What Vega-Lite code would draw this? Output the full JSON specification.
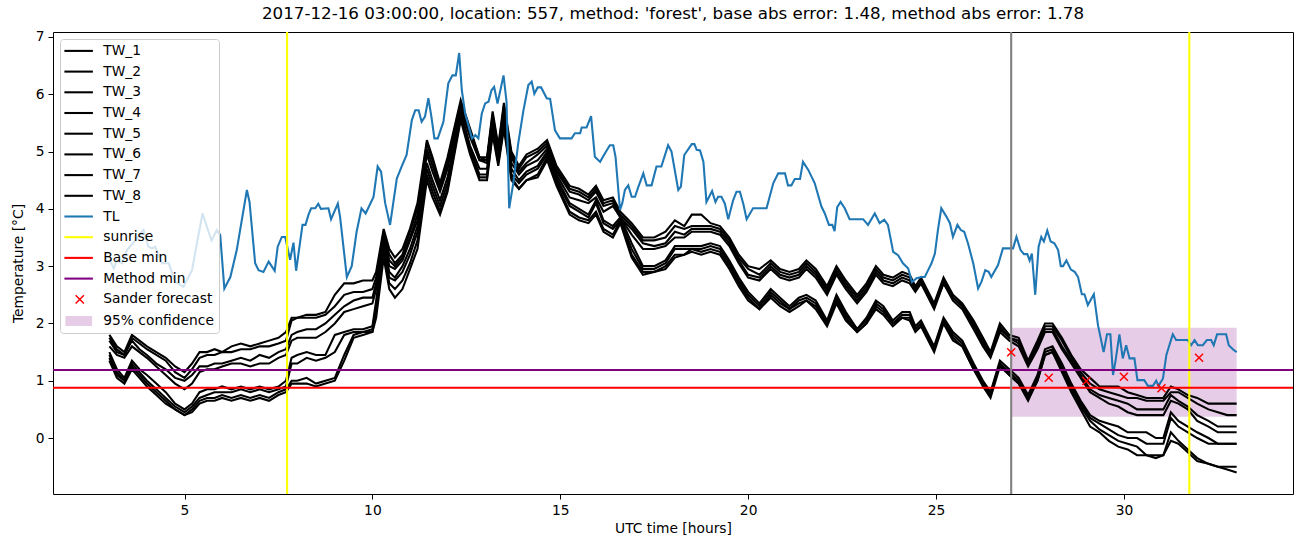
{
"$schema": "https://vega.github.io/schema/vega-lite/v6.json",
"width": 1240, "height": 462,
"autosize": {"type": "none"},
"padding": {"left": 53, "top": 32, "right": 9, "bottom": 53},
"background": "white",
"title": {"text": "2017-12-16 03:00:00, location: 557, method: 'forest', base abs error: 1.48, method abs error: 1.78", "font": "DejaVu Sans", "fontSize": 16.7, "fontWeight": "normal", "color": "black", "offset": 7, "anchor": "middle"},
"datasets": {
"tw": [
{"h":3.0,"TW_1":1.8,"TW_2":1.75,"TW_3":1.7,"TW_4":1.6,"TW_5":1.5,"TW_6":1.45,"TW_7":1.4,"TW_8":1.35},
{"h":3.2,"TW_1":1.6,"TW_2":1.55,"TW_3":1.5,"TW_4":1.45,"TW_5":1.2,"TW_6":1.15,"TW_7":1.1,"TW_8":1.05},
{"h":3.4,"TW_1":1.5,"TW_2":1.45,"TW_3":1.45,"TW_4":1.4,"TW_5":1.05,"TW_6":1.0,"TW_7":1.0,"TW_8":0.95},
{"h":3.6,"TW_1":1.8,"TW_2":1.75,"TW_3":1.7,"TW_4":1.6,"TW_5":1.35,"TW_6":1.3,"TW_7":1.25,"TW_8":1.2},
{"h":3.8,"TW_1":1.7,"TW_2":1.65,"TW_3":1.55,"TW_4":1.5,"TW_5":1.2,"TW_6":1.15,"TW_7":1.1,"TW_8":1.05},
{"h":4.0,"TW_1":1.6,"TW_2":1.55,"TW_3":1.45,"TW_4":1.4,"TW_5":1.1,"TW_6":1.0,"TW_7":0.95,"TW_8":0.9},
{"h":4.25,"TW_1":1.5,"TW_2":1.45,"TW_3":1.3,"TW_4":1.25,"TW_5":0.95,"TW_6":0.85,"TW_7":0.8,"TW_8":0.75},
{"h":4.5,"TW_1":1.4,"TW_2":1.35,"TW_3":1.2,"TW_4":1.1,"TW_5":0.8,"TW_6":0.7,"TW_7":0.65,"TW_8":0.6},
{"h":4.75,"TW_1":1.25,"TW_2":1.15,"TW_3":1.05,"TW_4":0.95,"TW_5":0.6,"TW_6":0.55,"TW_7":0.5,"TW_8":0.5},
{"h":5.0,"TW_1":1.15,"TW_2":1.05,"TW_3":1.0,"TW_4":0.85,"TW_5":0.5,"TW_6":0.45,"TW_7":0.4,"TW_8":0.4},
{"h":5.2,"TW_1":1.3,"TW_2":1.2,"TW_3":1.1,"TW_4":0.95,"TW_5":0.6,"TW_6":0.55,"TW_7":0.5,"TW_8":0.45},
{"h":5.4,"TW_1":1.5,"TW_2":1.4,"TW_3":1.25,"TW_4":1.15,"TW_5":0.8,"TW_6":0.7,"TW_7":0.65,"TW_8":0.6},
{"h":5.6,"TW_1":1.5,"TW_2":1.45,"TW_3":1.25,"TW_4":1.2,"TW_5":0.85,"TW_6":0.75,"TW_7":0.7,"TW_8":0.65},
{"h":5.8,"TW_1":1.55,"TW_2":1.45,"TW_3":1.3,"TW_4":1.2,"TW_5":0.85,"TW_6":0.8,"TW_7":0.7,"TW_8":0.65},
{"h":6.0,"TW_1":1.5,"TW_2":1.5,"TW_3":1.3,"TW_4":1.25,"TW_5":0.9,"TW_6":0.8,"TW_7":0.75,"TW_8":0.7},
{"h":6.25,"TW_1":1.6,"TW_2":1.5,"TW_3":1.35,"TW_4":1.3,"TW_5":0.85,"TW_6":0.8,"TW_7":0.7,"TW_8":0.65},
{"h":6.5,"TW_1":1.65,"TW_2":1.55,"TW_3":1.4,"TW_4":1.3,"TW_5":0.9,"TW_6":0.85,"TW_7":0.75,"TW_8":0.7},
{"h":6.75,"TW_1":1.6,"TW_2":1.55,"TW_3":1.35,"TW_4":1.25,"TW_5":0.85,"TW_6":0.8,"TW_7":0.7,"TW_8":0.65},
{"h":7.0,"TW_1":1.65,"TW_2":1.6,"TW_3":1.45,"TW_4":1.3,"TW_5":0.9,"TW_6":0.85,"TW_7":0.75,"TW_8":0.7},
{"h":7.25,"TW_1":1.7,"TW_2":1.6,"TW_3":1.4,"TW_4":1.3,"TW_5":0.85,"TW_6":0.8,"TW_7":0.7,"TW_8":0.65},
{"h":7.5,"TW_1":1.75,"TW_2":1.65,"TW_3":1.5,"TW_4":1.4,"TW_5":0.9,"TW_6":0.85,"TW_7":0.8,"TW_8":0.75},
{"h":7.7,"TW_1":1.85,"TW_2":1.7,"TW_3":1.55,"TW_4":1.45,"TW_5":1.0,"TW_6":0.9,"TW_7":0.85,"TW_8":0.8},
{"h":7.85,"TW_1":2.1,"TW_2":2.05,"TW_3":1.8,"TW_4":1.7,"TW_5":1.4,"TW_6":1.3,"TW_7":1.0,"TW_8":0.95},
{"h":8.0,"TW_1":2.1,"TW_2":2.1,"TW_3":1.85,"TW_4":1.75,"TW_5":1.45,"TW_6":1.3,"TW_7":1.0,"TW_8":0.95},
{"h":8.25,"TW_1":2.15,"TW_2":2.1,"TW_3":1.9,"TW_4":1.75,"TW_5":1.5,"TW_6":1.4,"TW_7":1.05,"TW_8":0.95},
{"h":8.5,"TW_1":2.15,"TW_2":2.1,"TW_3":1.9,"TW_4":1.75,"TW_5":1.45,"TW_6":1.35,"TW_7":0.95,"TW_8":0.9},
{"h":8.75,"TW_1":2.2,"TW_2":2.15,"TW_3":2.0,"TW_4":1.85,"TW_5":1.45,"TW_6":1.4,"TW_7":1.0,"TW_8":0.95},
{"h":9.0,"TW_1":2.5,"TW_2":2.3,"TW_3":2.15,"TW_4":2.0,"TW_5":1.8,"TW_6":1.5,"TW_7":1.05,"TW_8":1.0},
{"h":9.25,"TW_1":2.7,"TW_2":2.5,"TW_3":2.3,"TW_4":2.2,"TW_5":1.85,"TW_6":1.8,"TW_7":1.45,"TW_8":1.35},
{"h":9.5,"TW_1":2.7,"TW_2":2.55,"TW_3":2.4,"TW_4":2.25,"TW_5":1.9,"TW_6":1.85,"TW_7":1.8,"TW_8":1.75},
{"h":9.75,"TW_1":2.75,"TW_2":2.55,"TW_3":2.45,"TW_4":2.3,"TW_5":1.9,"TW_6":1.85,"TW_7":1.85,"TW_8":1.8},
{"h":10.0,"TW_1":2.75,"TW_2":2.6,"TW_3":2.45,"TW_4":2.35,"TW_5":1.95,"TW_6":1.9,"TW_7":1.85,"TW_8":1.85},
{"h":10.1,"TW_1":2.9,"TW_2":2.8,"TW_3":2.7,"TW_4":2.6,"TW_5":2.4,"TW_6":2.3,"TW_7":2.2,"TW_8":2.1},
{"h":10.3,"TW_1":3.65,"TW_2":3.6,"TW_3":3.55,"TW_4":3.5,"TW_5":3.4,"TW_6":3.35,"TW_7":3.3,"TW_8":3.15},
{"h":10.45,"TW_1":3.3,"TW_2":3.2,"TW_3":3.1,"TW_4":3.0,"TW_5":2.9,"TW_6":2.8,"TW_7":2.7,"TW_8":2.6},
{"h":10.6,"TW_1":3.15,"TW_2":3.05,"TW_3":3.0,"TW_4":2.95,"TW_5":2.8,"TW_6":2.75,"TW_7":2.6,"TW_8":2.45},
{"h":10.8,"TW_1":3.3,"TW_2":3.2,"TW_3":3.15,"TW_4":3.1,"TW_5":3.0,"TW_6":2.9,"TW_7":2.75,"TW_8":2.6},
{"h":11.0,"TW_1":3.65,"TW_2":3.6,"TW_3":3.5,"TW_4":3.45,"TW_5":3.3,"TW_6":3.2,"TW_7":3.05,"TW_8":2.95},
{"h":11.2,"TW_1":4.1,"TW_2":4.0,"TW_3":3.9,"TW_4":3.8,"TW_5":3.7,"TW_6":3.6,"TW_7":3.45,"TW_8":3.3},
{"h":11.45,"TW_1":5.2,"TW_2":5.15,"TW_3":5.05,"TW_4":4.95,"TW_5":4.8,"TW_6":4.7,"TW_7":4.6,"TW_8":4.5},
{"h":11.6,"TW_1":4.9,"TW_2":4.85,"TW_3":4.75,"TW_4":4.65,"TW_5":4.5,"TW_6":4.4,"TW_7":4.3,"TW_8":4.2},
{"h":11.8,"TW_1":4.45,"TW_2":4.4,"TW_3":4.35,"TW_4":4.3,"TW_5":4.15,"TW_6":4.05,"TW_7":3.95,"TW_8":3.9},
{"h":12.0,"TW_1":4.9,"TW_2":4.85,"TW_3":4.8,"TW_4":4.7,"TW_5":4.55,"TW_6":4.45,"TW_7":4.35,"TW_8":4.3},
{"h":12.35,"TW_1":5.9,"TW_2":5.85,"TW_3":5.8,"TW_4":5.75,"TW_5":5.7,"TW_6":5.65,"TW_7":5.6,"TW_8":5.55},
{"h":12.6,"TW_1":5.4,"TW_2":5.35,"TW_3":5.3,"TW_4":5.25,"TW_5":5.1,"TW_6":5.05,"TW_7":5.0,"TW_8":4.95},
{"h":12.85,"TW_1":4.9,"TW_2":4.9,"TW_3":4.85,"TW_4":4.85,"TW_5":4.7,"TW_6":4.6,"TW_7":4.55,"TW_8":4.5},
{"h":13.05,"TW_1":4.9,"TW_2":4.85,"TW_3":4.85,"TW_4":4.8,"TW_5":4.7,"TW_6":4.6,"TW_7":4.55,"TW_8":4.5},
{"h":13.2,"TW_1":5.7,"TW_2":5.65,"TW_3":5.6,"TW_4":5.55,"TW_5":5.5,"TW_6":5.45,"TW_7":5.35,"TW_8":5.3},
{"h":13.35,"TW_1":5.1,"TW_2":5.05,"TW_3":5.0,"TW_4":4.95,"TW_5":4.9,"TW_6":4.85,"TW_7":4.8,"TW_8":4.75},
{"h":13.5,"TW_1":5.85,"TW_2":5.8,"TW_3":5.75,"TW_4":5.7,"TW_5":5.6,"TW_6":5.5,"TW_7":5.45,"TW_8":5.4},
{"h":13.7,"TW_1":5.0,"TW_2":4.95,"TW_3":4.9,"TW_4":4.8,"TW_5":4.7,"TW_6":4.6,"TW_7":4.55,"TW_8":4.5},
{"h":13.9,"TW_1":4.75,"TW_2":4.7,"TW_3":4.65,"TW_4":4.6,"TW_5":4.5,"TW_6":4.45,"TW_7":4.35,"TW_8":4.35},
{"h":14.1,"TW_1":4.95,"TW_2":4.9,"TW_3":4.8,"TW_4":4.75,"TW_5":4.65,"TW_6":4.6,"TW_7":4.5,"TW_8":4.5},
{"h":14.4,"TW_1":5.05,"TW_2":5.0,"TW_3":4.95,"TW_4":4.85,"TW_5":4.75,"TW_6":4.7,"TW_7":4.6,"TW_8":4.55},
{"h":14.65,"TW_1":5.2,"TW_2":5.15,"TW_3":5.1,"TW_4":5.05,"TW_5":5.0,"TW_6":4.95,"TW_7":4.9,"TW_8":4.85},
{"h":14.9,"TW_1":4.75,"TW_2":4.7,"TW_3":4.65,"TW_4":4.6,"TW_5":4.55,"TW_6":4.5,"TW_7":4.45,"TW_8":4.4},
{"h":15.25,"TW_1":4.4,"TW_2":4.35,"TW_3":4.3,"TW_4":4.2,"TW_5":4.1,"TW_6":4.05,"TW_7":3.95,"TW_8":3.9},
{"h":15.5,"TW_1":4.35,"TW_2":4.3,"TW_3":4.25,"TW_4":4.15,"TW_5":4.0,"TW_6":3.95,"TW_7":3.85,"TW_8":3.8},
{"h":15.75,"TW_1":4.25,"TW_2":4.2,"TW_3":4.15,"TW_4":4.1,"TW_5":3.9,"TW_6":3.85,"TW_7":3.8,"TW_8":3.75},
{"h":15.95,"TW_1":4.4,"TW_2":4.35,"TW_3":4.3,"TW_4":4.2,"TW_5":4.15,"TW_6":4.1,"TW_7":3.95,"TW_8":3.9},
{"h":16.15,"TW_1":4.15,"TW_2":4.1,"TW_3":4.05,"TW_4":3.95,"TW_5":3.8,"TW_6":3.75,"TW_7":3.65,"TW_8":3.6},
{"h":16.4,"TW_1":4.2,"TW_2":4.15,"TW_3":4.1,"TW_4":4.05,"TW_5":3.7,"TW_6":3.65,"TW_7":3.55,"TW_8":3.5},
{"h":16.6,"TW_1":3.95,"TW_2":3.9,"TW_3":3.85,"TW_4":3.85,"TW_5":3.85,"TW_6":3.8,"TW_7":3.8,"TW_8":3.75},
{"h":16.9,"TW_1":3.75,"TW_2":3.7,"TW_3":3.65,"TW_4":3.55,"TW_5":3.4,"TW_6":3.3,"TW_7":3.2,"TW_8":3.15},
{"h":17.2,"TW_1":3.5,"TW_2":3.45,"TW_3":3.4,"TW_4":3.3,"TW_5":3.0,"TW_6":2.95,"TW_7":2.9,"TW_8":2.85},
{"h":17.5,"TW_1":3.5,"TW_2":3.45,"TW_3":3.35,"TW_4":3.3,"TW_5":3.0,"TW_6":2.95,"TW_7":2.9,"TW_8":2.9},
{"h":17.8,"TW_1":3.6,"TW_2":3.5,"TW_3":3.4,"TW_4":3.35,"TW_5":3.1,"TW_6":3.05,"TW_7":3.0,"TW_8":2.95},
{"h":18.05,"TW_1":3.8,"TW_2":3.7,"TW_3":3.6,"TW_4":3.5,"TW_5":3.35,"TW_6":3.3,"TW_7":3.2,"TW_8":3.15},
{"h":18.3,"TW_1":3.7,"TW_2":3.65,"TW_3":3.55,"TW_4":3.5,"TW_5":3.35,"TW_6":3.3,"TW_7":3.2,"TW_8":3.2},
{"h":18.5,"TW_1":3.9,"TW_2":3.7,"TW_3":3.65,"TW_4":3.6,"TW_5":3.35,"TW_6":3.3,"TW_7":3.3,"TW_8":3.25},
{"h":18.75,"TW_1":3.9,"TW_2":3.7,"TW_3":3.65,"TW_4":3.6,"TW_5":3.35,"TW_6":3.3,"TW_7":3.25,"TW_8":3.2},
{"h":19.0,"TW_1":3.75,"TW_2":3.7,"TW_3":3.65,"TW_4":3.6,"TW_5":3.4,"TW_6":3.35,"TW_7":3.3,"TW_8":3.25},
{"h":19.25,"TW_1":3.7,"TW_2":3.65,"TW_3":3.6,"TW_4":3.55,"TW_5":3.35,"TW_6":3.3,"TW_7":3.25,"TW_8":3.2},
{"h":19.5,"TW_1":3.5,"TW_2":3.45,"TW_3":3.4,"TW_4":3.35,"TW_5":3.1,"TW_6":3.05,"TW_7":3.0,"TW_8":2.95},
{"h":19.75,"TW_1":3.2,"TW_2":3.15,"TW_3":3.1,"TW_4":3.05,"TW_5":2.8,"TW_6":2.75,"TW_7":2.7,"TW_8":2.65},
{"h":20.0,"TW_1":3.0,"TW_2":2.95,"TW_3":2.85,"TW_4":2.8,"TW_5":2.55,"TW_6":2.5,"TW_7":2.45,"TW_8":2.4},
{"h":20.3,"TW_1":2.95,"TW_2":2.85,"TW_3":2.8,"TW_4":2.75,"TW_5":2.35,"TW_6":2.3,"TW_7":2.25,"TW_8":2.25},
{"h":20.6,"TW_1":3.1,"TW_2":3.05,"TW_3":3.0,"TW_4":2.95,"TW_5":2.6,"TW_6":2.55,"TW_7":2.5,"TW_8":2.45},
{"h":20.85,"TW_1":2.95,"TW_2":2.9,"TW_3":2.85,"TW_4":2.8,"TW_5":2.45,"TW_6":2.4,"TW_7":2.35,"TW_8":2.3},
{"h":21.1,"TW_1":2.9,"TW_2":2.85,"TW_3":2.8,"TW_4":2.75,"TW_5":2.3,"TW_6":2.25,"TW_7":2.25,"TW_8":2.2},
{"h":21.35,"TW_1":2.95,"TW_2":2.9,"TW_3":2.85,"TW_4":2.8,"TW_5":2.45,"TW_6":2.4,"TW_7":2.35,"TW_8":2.3},
{"h":21.55,"TW_1":3.1,"TW_2":3.05,"TW_3":3.0,"TW_4":2.95,"TW_5":2.5,"TW_6":2.45,"TW_7":2.4,"TW_8":2.4},
{"h":21.8,"TW_1":2.95,"TW_2":2.9,"TW_3":2.85,"TW_4":2.8,"TW_5":2.4,"TW_6":2.35,"TW_7":2.3,"TW_8":2.25},
{"h":22.1,"TW_1":2.65,"TW_2":2.6,"TW_3":2.55,"TW_4":2.5,"TW_5":2.05,"TW_6":2.0,"TW_7":2.0,"TW_8":1.95},
{"h":22.35,"TW_1":3.0,"TW_2":2.95,"TW_3":2.9,"TW_4":2.85,"TW_5":2.5,"TW_6":2.45,"TW_7":2.4,"TW_8":2.35},
{"h":22.6,"TW_1":2.75,"TW_2":2.7,"TW_3":2.65,"TW_4":2.6,"TW_5":2.2,"TW_6":2.15,"TW_7":2.1,"TW_8":2.05},
{"h":22.9,"TW_1":2.5,"TW_2":2.45,"TW_3":2.4,"TW_4":2.35,"TW_5":1.9,"TW_6":1.9,"TW_7":1.85,"TW_8":1.85},
{"h":23.15,"TW_1":2.7,"TW_2":2.65,"TW_3":2.6,"TW_4":2.55,"TW_5":2.1,"TW_6":2.05,"TW_7":2.0,"TW_8":2.0},
{"h":23.4,"TW_1":3.0,"TW_2":2.95,"TW_3":2.9,"TW_4":2.85,"TW_5":2.4,"TW_6":2.35,"TW_7":2.3,"TW_8":2.25},
{"h":23.6,"TW_1":2.85,"TW_2":2.8,"TW_3":2.75,"TW_4":2.7,"TW_5":2.3,"TW_6":2.25,"TW_7":2.2,"TW_8":2.15},
{"h":23.85,"TW_1":2.8,"TW_2":2.75,"TW_3":2.7,"TW_4":2.65,"TW_5":2.05,"TW_6":2.0,"TW_7":2.0,"TW_8":1.95},
{"h":24.1,"TW_1":2.9,"TW_2":2.85,"TW_3":2.8,"TW_4":2.75,"TW_5":2.2,"TW_6":2.15,"TW_7":2.1,"TW_8":2.1},
{"h":24.3,"TW_1":2.85,"TW_2":2.8,"TW_3":2.75,"TW_4":2.7,"TW_5":2.2,"TW_6":2.15,"TW_7":2.1,"TW_8":2.05},
{"h":24.45,"TW_1":2.65,"TW_2":2.6,"TW_3":2.6,"TW_4":2.55,"TW_5":1.95,"TW_6":1.9,"TW_7":1.9,"TW_8":1.85},
{"h":24.6,"TW_1":2.8,"TW_2":2.75,"TW_3":2.7,"TW_4":2.7,"TW_5":2.05,"TW_6":2.0,"TW_7":2.0,"TW_8":1.95},
{"h":24.95,"TW_1":2.35,"TW_2":2.3,"TW_3":2.3,"TW_4":2.25,"TW_5":1.6,"TW_6":1.55,"TW_7":1.55,"TW_8":1.5},
{"h":25.2,"TW_1":2.8,"TW_2":2.75,"TW_3":2.7,"TW_4":2.7,"TW_5":2.1,"TW_6":2.05,"TW_7":2.05,"TW_8":2.0},
{"h":25.45,"TW_1":2.5,"TW_2":2.45,"TW_3":2.45,"TW_4":2.4,"TW_5":1.85,"TW_6":1.8,"TW_7":1.75,"TW_8":1.7},
{"h":25.7,"TW_1":2.35,"TW_2":2.3,"TW_3":2.3,"TW_4":2.25,"TW_5":1.7,"TW_6":1.65,"TW_7":1.6,"TW_8":1.6},
{"h":26.0,"TW_1":2.05,"TW_2":2.0,"TW_3":1.95,"TW_4":1.9,"TW_5":1.3,"TW_6":1.25,"TW_7":1.2,"TW_8":1.2},
{"h":26.25,"TW_1":1.75,"TW_2":1.7,"TW_3":1.65,"TW_4":1.6,"TW_5":1.0,"TW_6":0.95,"TW_7":0.95,"TW_8":0.9},
{"h":26.45,"TW_1":1.5,"TW_2":1.45,"TW_3":1.45,"TW_4":1.4,"TW_5":0.8,"TW_6":0.75,"TW_7":0.75,"TW_8":0.7},
{"h":26.7,"TW_1":2.0,"TW_2":1.95,"TW_3":1.9,"TW_4":1.85,"TW_5":1.35,"TW_6":1.3,"TW_7":1.3,"TW_8":1.25},
{"h":26.95,"TW_1":1.8,"TW_2":1.75,"TW_3":1.75,"TW_4":1.7,"TW_5":1.2,"TW_6":1.15,"TW_7":1.1,"TW_8":1.1},
{"h":27.2,"TW_1":1.75,"TW_2":1.7,"TW_3":1.65,"TW_4":1.6,"TW_5":1.05,"TW_6":1.0,"TW_7":0.95,"TW_8":0.95},
{"h":27.45,"TW_1":1.35,"TW_2":1.3,"TW_3":1.3,"TW_4":1.25,"TW_5":0.75,"TW_6":0.7,"TW_7":0.7,"TW_8":0.65},
{"h":27.7,"TW_1":1.7,"TW_2":1.65,"TW_3":1.6,"TW_4":1.55,"TW_5":1.1,"TW_6":1.05,"TW_7":1.0,"TW_8":1.0},
{"h":27.9,"TW_1":2.0,"TW_2":1.95,"TW_3":1.9,"TW_4":1.85,"TW_5":1.55,"TW_6":1.5,"TW_7":1.45,"TW_8":1.45},
{"h":28.1,"TW_1":2.0,"TW_2":1.95,"TW_3":1.9,"TW_4":1.85,"TW_5":1.6,"TW_6":1.55,"TW_7":1.5,"TW_8":1.5},
{"h":28.35,"TW_1":1.75,"TW_2":1.7,"TW_3":1.6,"TW_4":1.55,"TW_5":1.3,"TW_6":1.25,"TW_7":1.2,"TW_8":1.15},
{"h":28.6,"TW_1":1.45,"TW_2":1.4,"TW_3":1.35,"TW_4":1.3,"TW_5":0.95,"TW_6":0.9,"TW_7":0.85,"TW_8":0.8},
{"h":28.85,"TW_1":1.2,"TW_2":1.15,"TW_3":1.1,"TW_4":1.05,"TW_5":0.65,"TW_6":0.6,"TW_7":0.55,"TW_8":0.5},
{"h":29.1,"TW_1":1.05,"TW_2":0.95,"TW_3":0.85,"TW_4":0.8,"TW_5":0.4,"TW_6":0.35,"TW_7":0.3,"TW_8":0.2},
{"h":29.35,"TW_1":0.9,"TW_2":0.85,"TW_3":0.75,"TW_4":0.7,"TW_5":0.3,"TW_6":0.25,"TW_7":0.15,"TW_8":0.1},
{"h":29.6,"TW_1":0.9,"TW_2":0.8,"TW_3":0.7,"TW_4":0.6,"TW_5":0.25,"TW_6":0.15,"TW_7":0.05,"TW_8":-0.05},
{"h":29.85,"TW_1":0.9,"TW_2":0.75,"TW_3":0.65,"TW_4":0.55,"TW_5":0.2,"TW_6":0.05,"TW_7":-0.05,"TW_8":-0.15},
{"h":30.1,"TW_1":0.8,"TW_2":0.7,"TW_3":0.6,"TW_4":0.45,"TW_5":0.1,"TW_6":0.0,"TW_7":-0.1,"TW_8":-0.2},
{"h":30.35,"TW_1":0.75,"TW_2":0.7,"TW_3":0.5,"TW_4":0.4,"TW_5":0.1,"TW_6":0.0,"TW_7":-0.15,"TW_8":-0.3},
{"h":30.6,"TW_1":0.7,"TW_2":0.65,"TW_3":0.5,"TW_4":0.4,"TW_5":0.1,"TW_6":-0.1,"TW_7":-0.3,"TW_8":-0.3},
{"h":30.85,"TW_1":0.7,"TW_2":0.65,"TW_3":0.5,"TW_4":0.4,"TW_5":0.0,"TW_6":-0.1,"TW_7":-0.3,"TW_8":-0.35},
{"h":31.05,"TW_1":0.7,"TW_2":0.65,"TW_3":0.5,"TW_4":0.4,"TW_5":0.0,"TW_6":-0.1,"TW_7":-0.3,"TW_8":-0.3},
{"h":31.25,"TW_1":0.9,"TW_2":0.8,"TW_3":0.75,"TW_4":0.65,"TW_5":0.45,"TW_6":0.35,"TW_7":0.1,"TW_8":-0.05},
{"h":31.45,"TW_1":0.85,"TW_2":0.8,"TW_3":0.65,"TW_4":0.6,"TW_5":0.3,"TW_6":0.2,"TW_7":-0.05,"TW_8":-0.1},
{"h":31.7,"TW_1":0.75,"TW_2":0.7,"TW_3":0.55,"TW_4":0.5,"TW_5":0.2,"TW_6":0.1,"TW_7":-0.2,"TW_8":-0.25},
{"h":31.95,"TW_1":0.7,"TW_2":0.6,"TW_3":0.4,"TW_4":0.3,"TW_5":0.1,"TW_6":0.0,"TW_7":-0.35,"TW_8":-0.4},
{"h":32.25,"TW_1":0.6,"TW_2":0.5,"TW_3":0.3,"TW_4":0.2,"TW_5":0.0,"TW_6":-0.1,"TW_7":-0.45,"TW_8":-0.45},
{"h":32.5,"TW_1":0.6,"TW_2":0.45,"TW_3":0.2,"TW_4":0.1,"TW_5":-0.1,"TW_6":-0.1,"TW_7":-0.5,"TW_8":-0.5},
{"h":32.75,"TW_1":0.6,"TW_2":0.4,"TW_3":0.2,"TW_4":0.1,"TW_5":-0.1,"TW_6":-0.1,"TW_7":-0.5,"TW_8":-0.55},
{"h":33.0,"TW_1":0.6,"TW_2":0.4,"TW_3":0.2,"TW_4":0.1,"TW_5":-0.1,"TW_6":-0.1,"TW_7":-0.5,"TW_8":-0.6}
],
"tl": [
{"h":3.0,"T":3.11},{"h":3.12,"T":2.96},{"h":3.2,"T":3.1},{"h":3.34,"T":3.05},{"h":3.47,"T":3.28},{"h":3.69,"T":3.45},{"h":3.91,"T":3.63},{"h":4.04,"T":3.34},{"h":4.13,"T":3.31},{"h":4.22,"T":3.34},{"h":4.4,"T":3.05},{"h":4.58,"T":3.05},{"h":4.75,"T":2.73},{"h":4.97,"T":2.64},{"h":5.2,"T":2.93},{"h":5.33,"T":3.4},{"h":5.48,"T":3.92},{"h":5.64,"T":3.6},{"h":5.72,"T":3.45},{"h":5.86,"T":3.63},{"h":5.95,"T":3.54},{"h":6.06,"T":2.61},{"h":6.22,"T":2.81},{"h":6.39,"T":3.28},{"h":6.66,"T":4.33},{"h":6.73,"T":4.12},{"h":6.88,"T":3.05},{"h":6.97,"T":2.93},{"h":7.1,"T":2.9},{"h":7.24,"T":3.08},{"h":7.4,"T":2.92},{"h":7.48,"T":3.34},{"h":7.59,"T":3.51},{"h":7.68,"T":3.51},{"h":7.81,"T":3.11},{"h":7.9,"T":3.41},{"h":7.97,"T":2.92},{"h":8.14,"T":3.72},{"h":8.22,"T":3.72},{"h":8.3,"T":3.9},{"h":8.37,"T":4.01},{"h":8.48,"T":4.01},{"h":8.56,"T":4.09},{"h":8.63,"T":4.0},{"h":8.83,"T":4.01},{"h":8.9,"T":3.82},{"h":9.08,"T":4.09},{"h":9.14,"T":3.86},{"h":9.32,"T":2.81},{"h":9.45,"T":3.0},{"h":9.58,"T":3.6},{"h":9.71,"T":4.01},{"h":9.82,"T":3.92},{"h":10.03,"T":4.21},{"h":10.14,"T":4.74},{"h":10.23,"T":4.65},{"h":10.34,"T":4.1},{"h":10.47,"T":3.72},{"h":10.65,"T":4.53},{"h":10.78,"T":4.74},{"h":10.91,"T":4.94},{"h":11.05,"T":5.55},{"h":11.14,"T":5.72},{"h":11.23,"T":5.72},{"h":11.31,"T":5.52},{"h":11.4,"T":5.61},{"h":11.49,"T":5.93},{"h":11.57,"T":5.61},{"h":11.65,"T":5.23},{"h":11.74,"T":5.23},{"h":11.89,"T":5.52},{"h":12.02,"T":6.19},{"h":12.13,"T":6.33},{"h":12.22,"T":6.33},{"h":12.31,"T":6.72},{"h":12.38,"T":6.07},{"h":12.47,"T":5.66},{"h":12.65,"T":5.23},{"h":12.74,"T":5.29},{"h":12.82,"T":5.23},{"h":12.91,"T":5.66},{"h":13.0,"T":5.84},{"h":13.09,"T":5.87},{"h":13.17,"T":6.07},{"h":13.24,"T":6.13},{"h":13.33,"T":5.84},{"h":13.49,"T":6.33},{"h":13.57,"T":5.87},{"h":13.64,"T":4.01},{"h":13.75,"T":4.45},{"h":13.88,"T":5.14},{"h":14.02,"T":5.72},{"h":14.15,"T":6.16},{"h":14.24,"T":6.22},{"h":14.31,"T":6.01},{"h":14.4,"T":6.12},{"h":14.49,"T":6.12},{"h":14.64,"T":5.93},{"h":14.73,"T":5.92},{"h":14.86,"T":5.37},{"h":14.99,"T":5.23},{"h":15.3,"T":5.23},{"h":15.39,"T":5.32},{"h":15.53,"T":5.32},{"h":15.57,"T":5.42},{"h":15.7,"T":5.42},{"h":15.82,"T":5.62},{"h":15.92,"T":4.91},{"h":16.06,"T":4.82},{"h":16.19,"T":4.97},{"h":16.32,"T":5.11},{"h":16.41,"T":5.11},{"h":16.47,"T":4.91},{"h":16.59,"T":3.98},{"h":16.65,"T":4.1},{"h":16.72,"T":4.33},{"h":16.81,"T":4.41},{"h":16.9,"T":4.21},{"h":16.99,"T":4.21},{"h":17.08,"T":4.39},{"h":17.21,"T":4.62},{"h":17.3,"T":4.41},{"h":17.43,"T":4.41},{"h":17.56,"T":4.74},{"h":17.69,"T":4.74},{"h":17.87,"T":5.11},{"h":17.96,"T":5.0},{"h":18.14,"T":4.33},{"h":18.21,"T":4.39},{"h":18.3,"T":4.94},{"h":18.5,"T":5.13},{"h":18.57,"T":5.13},{"h":18.63,"T":5.03},{"h":18.72,"T":5.02},{"h":18.81,"T":4.82},{"h":18.89,"T":4.12},{"h":19.04,"T":4.31},{"h":19.13,"T":4.12},{"h":19.2,"T":4.21},{"h":19.29,"T":4.21},{"h":19.38,"T":4.09},{"h":19.47,"T":3.82},{"h":19.6,"T":4.15},{"h":19.69,"T":4.3},{"h":19.78,"T":4.3},{"h":19.87,"T":4.09},{"h":19.96,"T":3.82},{"h":20.13,"T":4.01},{"h":20.49,"T":4.01},{"h":20.67,"T":4.45},{"h":20.8,"T":4.62},{"h":20.98,"T":4.62},{"h":21.06,"T":4.41},{"h":21.15,"T":4.41},{"h":21.24,"T":4.52},{"h":21.38,"T":4.52},{"h":21.46,"T":4.82},{"h":21.6,"T":4.68},{"h":21.77,"T":4.45},{"h":21.95,"T":4.04},{"h":22.04,"T":3.92},{"h":22.15,"T":3.72},{"h":22.24,"T":3.72},{"h":22.3,"T":3.61},{"h":22.37,"T":4.03},{"h":22.46,"T":4.12},{"h":22.57,"T":4.01},{"h":22.7,"T":3.82},{"h":23.06,"T":3.82},{"h":23.19,"T":3.72},{"h":23.37,"T":3.92},{"h":23.5,"T":3.75},{"h":23.62,"T":3.81},{"h":23.72,"T":3.72},{"h":23.86,"T":3.25},{"h":23.99,"T":3.19},{"h":24.12,"T":3.05},{"h":24.26,"T":2.96},{"h":24.36,"T":2.72},{"h":24.48,"T":2.79},{"h":24.61,"T":2.81},{"h":24.7,"T":2.81},{"h":24.79,"T":2.93},{"h":24.88,"T":3.05},{"h":24.97,"T":3.22},{"h":25.05,"T":3.63},{"h":25.14,"T":4.01},{"h":25.28,"T":3.86},{"h":25.37,"T":3.75},{"h":25.45,"T":3.51},{"h":25.57,"T":3.72},{"h":25.66,"T":3.63},{"h":25.75,"T":3.6},{"h":25.85,"T":3.4},{"h":25.99,"T":3.05},{"h":26.12,"T":2.61},{"h":26.21,"T":2.73},{"h":26.31,"T":2.93},{"h":26.4,"T":2.9},{"h":26.47,"T":2.81},{"h":26.65,"T":3.02},{"h":26.78,"T":3.31},{"h":26.92,"T":3.31},{"h":27.05,"T":3.31},{"h":27.14,"T":3.51},{"h":27.25,"T":3.28},{"h":27.34,"T":3.21},{"h":27.43,"T":3.21},{"h":27.49,"T":3.1},{"h":27.55,"T":3.22},{"h":27.64,"T":2.5},{"h":27.73,"T":3.34},{"h":27.8,"T":3.51},{"h":27.87,"T":3.43},{"h":27.96,"T":3.62},{"h":28.05,"T":3.43},{"h":28.15,"T":3.4},{"h":28.25,"T":3.28},{"h":28.32,"T":3.0},{"h":28.38,"T":3.0},{"h":28.47,"T":3.1},{"h":28.59,"T":2.94},{"h":28.69,"T":2.9},{"h":28.78,"T":2.81},{"h":28.88,"T":2.51},{"h":28.95,"T":2.51},{"h":29.04,"T":2.32},{"h":29.2,"T":2.51},{"h":29.31,"T":1.97},{"h":29.46,"T":1.5},{"h":29.55,"T":1.81},{"h":29.64,"T":1.81},{"h":29.71,"T":1.1},{"h":29.78,"T":1.36},{"h":29.88,"T":1.81},{"h":29.97,"T":1.39},{"h":30.06,"T":1.62},{"h":30.15,"T":1.39},{"h":30.28,"T":1.39},{"h":30.36,"T":1.01},{"h":30.54,"T":1.01},{"h":30.64,"T":0.91},{"h":30.77,"T":0.91},{"h":30.86,"T":1.0},{"h":30.92,"T":0.91},{"h":31.04,"T":1.04},{"h":31.13,"T":1.45},{"h":31.21,"T":1.62},{"h":31.3,"T":1.81},{"h":31.39,"T":1.71},{"h":31.7,"T":1.71},{"h":31.79,"T":1.62},{"h":31.88,"T":1.71},{"h":31.97,"T":1.62},{"h":32.1,"T":1.62},{"h":32.21,"T":1.71},{"h":32.32,"T":1.71},{"h":32.39,"T":1.62},{"h":32.48,"T":1.81},{"h":32.72,"T":1.81},{"h":32.79,"T":1.62},{"h":32.9,"T":1.55},{"h":33.0,"T":1.5}
]
},
"layer": [
{"data": {"values": [{"h": 27, "h2": 33, "T": 0.372, "T2": 1.925}]},
 "mark": {"type": "rect", "color": "purple", "opacity": 0.2},
 "encoding": {
  "x": {"field": "h", "type": "quantitative", "scale": {"domain": [1.5, 34.5], "nice": false, "zero": false}, "title": "UTC time [hours]", "axis": {"values": [5, 10, 15, 20, 25, 30]}},
  "x2": {"field": "h2"},
  "y": {"field": "T", "type": "quantitative", "scale": {"domain": [-0.977, 7.087], "nice": false, "zero": false}, "title": "Temperature [°C]", "axis": {"values": [0, 1, 2, 3, 4, 5, 6, 7]}},
  "y2": {"field": "T2"}
 }},
{"data": {"name": "tw"},
 "transform": [{"fold": ["TW_1", "TW_2", "TW_3", "TW_4", "TW_5", "TW_6", "TW_7", "TW_8"], "as": ["series", "T"]}],
 "mark": {"type": "line", "strokeWidth": 2.08},
 "encoding": {
  "x": {"field": "h", "type": "quantitative", "scale": {"domain": [1.5, 34.5], "nice": false, "zero": false}, "title": "UTC time [hours]", "axis": {"values": [5, 10, 15, 20, 25, 30]}},
  "y": {"field": "T", "type": "quantitative", "scale": {"domain": [-0.977, 7.087], "nice": false, "zero": false}, "title": "Temperature [°C]", "axis": {"values": [0, 1, 2, 3, 4, 5, 6, 7]}},
  "color": {"field": "series", "type": "nominal",
   "scale": {"domain": ["TW_1", "TW_2", "TW_3", "TW_4", "TW_5", "TW_6", "TW_7", "TW_8", "TL", "sunrise", "Base min", "Method min", "Sander forecast", "95% confidence"], "range": ["black", "black", "black", "black", "black", "black", "black", "black", "#1f77b4", "#ffff00", "red", "purple", "red", "purple"]},
   "legend": {"title": null, "orient": "top-left", "offset": 7, "padding": 5, "rowPadding": 5.7, "symbolSize": 225, "symbolStrokeWidth": 2.08, "labelOffset": 24.5, "labelFont": "DejaVu Sans", "labelFontSize": 13.8, "labelColor": "black", "labelLimit": 300, "strokeColor": "#cccccc", "fillColor": "rgba(255,255,255,0.8)", "cornerRadius": 3,
    "encode": {"symbols": {"update": {
     "shape": {"signal": "datum.value === 'Sander forecast' ? 'M0.5,-0.55L1.6,0.55M0.5,0.55L1.6,-0.55' : (datum.value === '95% confidence' ? 'M-0.87,-0.67H2.69V0.67H-0.87Z' : 'M-1,0H2.8')"},
     "fill": {"signal": "datum.value === '95% confidence' ? '#e6cce6' : 'transparent'"},
     "stroke": {"signal": "scale('color', datum.value)"},
     "strokeOpacity": {"signal": "datum.value === '95% confidence' ? 0 : 1"},
     "strokeWidth": {"signal": "datum.value === 'Sander forecast' ? 1.5 : 2.08"},
     "opacity": {"value": 1}
    }}}}
  }
 }},
{"data": {"name": "tl"},
 "mark": {"type": "line", "strokeWidth": 2.08},
 "encoding": {
  "x": {"field": "h", "type": "quantitative", "scale": {"domain": [1.5, 34.5], "nice": false, "zero": false}, "title": "UTC time [hours]", "axis": {"values": [5, 10, 15, 20, 25, 30]}},
  "y": {"field": "T", "type": "quantitative", "scale": {"domain": [-0.977, 7.087], "nice": false, "zero": false}, "title": "Temperature [°C]", "axis": {"values": [0, 1, 2, 3, 4, 5, 6, 7]}},
  "color": {"datum": "TL", "type": "nominal",
   "scale": {"domain": ["TW_1", "TW_2", "TW_3", "TW_4", "TW_5", "TW_6", "TW_7", "TW_8", "TL", "sunrise", "Base min", "Method min", "Sander forecast", "95% confidence"], "range": ["black", "black", "black", "black", "black", "black", "black", "black", "#1f77b4", "#ffff00", "red", "purple", "red", "purple"]},
   "legend": {"title": null, "orient": "top-left", "offset": 7, "padding": 5, "rowPadding": 5.7, "symbolSize": 225, "symbolStrokeWidth": 2.08, "labelOffset": 24.5, "labelFont": "DejaVu Sans", "labelFontSize": 13.8, "labelColor": "black", "labelLimit": 300, "strokeColor": "#cccccc", "fillColor": "rgba(255,255,255,0.8)", "cornerRadius": 3,
    "encode": {"symbols": {"update": {
     "shape": {"signal": "datum.value === 'Sander forecast' ? 'M0.5,-0.55L1.6,0.55M0.5,0.55L1.6,-0.55' : (datum.value === '95% confidence' ? 'M-0.87,-0.67H2.69V0.67H-0.87Z' : 'M-1,0H2.8')"},
     "fill": {"signal": "datum.value === '95% confidence' ? '#e6cce6' : 'transparent'"},
     "stroke": {"signal": "scale('color', datum.value)"},
     "strokeOpacity": {"signal": "datum.value === '95% confidence' ? 0 : 1"},
     "strokeWidth": {"signal": "datum.value === 'Sander forecast' ? 1.5 : 2.08"},
     "opacity": {"value": 1}
    }}}}
  }
 }},
{"data": {"values": [{"h": 7.73}, {"h": 31.74}]},
 "mark": {"type": "rule", "color": "#ffff00", "strokeWidth": 2.08},
 "encoding": {"x": {"field": "h", "type": "quantitative", "scale": {"domain": [1.5, 34.5], "nice": false, "zero": false}, "title": "UTC time [hours]", "axis": {"values": [5, 10, 15, 20, 25, 30]}}}},
{"data": {"values": [{"T": 0.878}]},
 "mark": {"type": "rule", "color": "red", "strokeWidth": 2.08},
 "encoding": {"y": {"field": "T", "type": "quantitative", "scale": {"domain": [-0.977, 7.087], "nice": false, "zero": false}, "title": "Temperature [°C]", "axis": {"values": [0, 1, 2, 3, 4, 5, 6, 7]}}}},
{"data": {"values": [{"T": 1.187}]},
 "mark": {"type": "rule", "color": "purple", "strokeWidth": 2.08},
 "encoding": {"y": {"field": "T", "type": "quantitative", "scale": {"domain": [-0.977, 7.087], "nice": false, "zero": false}, "title": "Temperature [°C]", "axis": {"values": [0, 1, 2, 3, 4, 5, 6, 7]}}}},
{"data": {"values": [{"h": 27}]},
 "mark": {"type": "rule", "color": "gray", "strokeWidth": 2.08},
 "encoding": {"x": {"field": "h", "type": "quantitative", "scale": {"domain": [1.5, 34.5], "nice": false, "zero": false}, "title": "UTC time [hours]", "axis": {"values": [5, 10, 15, 20, 25, 30]}}}},
{"data": {"values": [{"h": 27, "T": 1.496}, {"h": 28, "T": 1.053}, {"h": 29, "T": 0.995}, {"h": 30, "T": 1.07}, {"h": 31, "T": 0.868}, {"h": 32, "T": 1.402}]},
 "mark": {"type": "point", "shape": "M-1,-1L1,1M-1,1L1,-1", "size": 64, "filled": false, "color": "red", "strokeWidth": 1.5, "opacity": 1},
 "encoding": {
  "x": {"field": "h", "type": "quantitative", "scale": {"domain": [1.5, 34.5], "nice": false, "zero": false}, "title": "UTC time [hours]", "axis": {"values": [5, 10, 15, 20, 25, 30]}},
  "y": {"field": "T", "type": "quantitative", "scale": {"domain": [-0.977, 7.087], "nice": false, "zero": false}, "title": "Temperature [°C]", "axis": {"values": [0, 1, 2, 3, 4, 5, 6, 7]}}
 }}
],
"config": {
 "view": {"stroke": "black", "strokeWidth": 1},
 "font": "DejaVu Sans",
 "axis": {"grid": false, "domain": false, "tickColor": "black", "tickSize": 5, "tickWidth": 1, "labelFont": "DejaVu Sans", "labelFontSize": 13.8, "labelColor": "black", "titleFont": "DejaVu Sans", "titleFontSize": 13.8, "titleFontWeight": "normal", "titleColor": "black", "labelPadding": 4},
 "axisX": {"titlePadding": 5},
 "axisY": {"titlePadding": 10}
}
}
